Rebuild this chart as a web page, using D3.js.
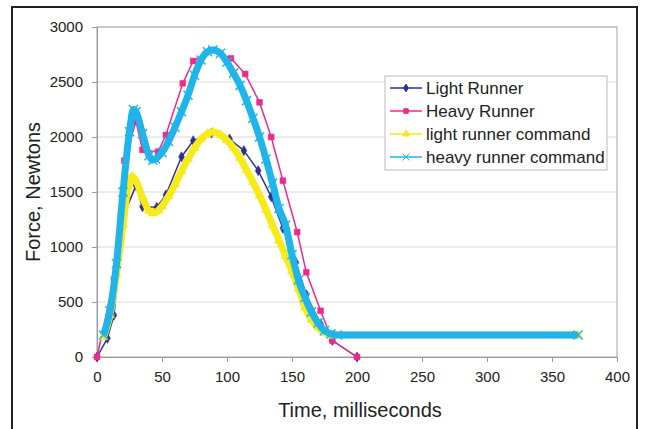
<!DOCTYPE html>
<html>
<head>
<meta charset="utf-8">
<script src="https://cdn.jsdelivr.net/npm/d3@7"></script>
<style>
  body { margin: 0; background: #fff; }
  text { font-family: "Liberation Sans", Arial, sans-serif; }
</style>
</head>
<body>
<div id="chart"></div>
<script>
var svgWidth = 648;
var svgHeight = 429;

// plot area in page pixels
var margin = { top: 27, right: 31, bottom: 72, left: 97 };
var width = svgWidth - margin.left - margin.right;
var height = svgHeight - margin.top - margin.bottom;

// measured runners
var lightTime  = [0, 8, 13, 21, 30, 35, 46, 53, 65, 74, 88, 102, 113, 124, 134, 143, 153, 161, 172, 181, 200];
var lightForce = [0, 170, 380, 1300, 1560, 1366, 1361, 1473, 1820, 1966, 2035, 1982, 1876, 1694, 1457, 1170, 860, 566, 300, 150, 0];

var heavyTime  = [0, 13, 21, 30, 35, 47, 53, 66, 74, 88, 103, 114, 125, 134, 143, 154, 161, 172, 181, 200];
var heavyForce = [0, 706, 1785, 2140, 1882, 1866, 2018, 2488, 2691, 2790, 2715, 2573, 2315, 2000, 1603, 1136, 770, 420, 150, 0];

// command curves
var lightCmdTime  = [5, 10, 15, 20, 24, 27, 30, 35, 40, 43, 47, 50, 55, 60, 65, 70, 75, 80, 85, 89, 95, 100, 105, 110, 115, 120, 125, 130, 135, 140, 145, 150, 155, 160, 165, 170, 175, 180, 370];
var lightCmdForce = [180, 380, 750, 1200, 1550, 1640, 1600, 1450, 1330, 1310, 1330, 1370, 1460, 1570, 1690, 1800, 1900, 1980, 2030, 2045, 2020, 1970, 1900, 1810, 1700, 1590, 1470, 1340, 1200, 1060, 920, 780, 620, 450, 340, 270, 220, 200, 200];

var heavyCmdTime  = [5, 10, 15, 20, 25, 28, 30, 35, 40, 43, 45, 50, 55, 60, 65, 70, 75, 80, 85, 89, 95, 100, 105, 110, 115, 120, 125, 130, 135, 140, 145, 150, 155, 160, 165, 170, 175, 180, 185, 370];
var heavyCmdForce = [200, 420, 850, 1500, 2050, 2250, 2230, 2030, 1830, 1790, 1800, 1860, 1960, 2090, 2230, 2380, 2560, 2700, 2775, 2790, 2760, 2680, 2580, 2470, 2330, 2170, 2000, 1800, 1580, 1350, 1200, 930, 700, 540, 410, 310, 240, 210, 200, 200];

var xTicks = [0, 50, 100, 150, 200, 250, 300, 350, 400];
var yTicks = [0, 500, 1000, 1500, 2000, 2500, 3000];

var seriesNames = ["Light Runner", "Heavy Runner", "light runner command", "heavy runner command"];

var series = [
  { name: seriesNames[0], t: lightTime, f: lightForce, color: "#2e3192", width: 1.5, marker: "diamond", size: 30, curve: d3.curveLinear },
  { name: seriesNames[1], t: heavyTime, f: heavyForce, color: "#ec2a8c", width: 1.5, marker: "square", size: 34, curve: d3.curveLinear },
  { name: seriesNames[2], t: lightCmdTime, f: lightCmdForce, color: "#f7ea1a", width: 7, marker: "triangle", size: 36, curve: d3.curveMonotoneX },
  { name: seriesNames[3], t: heavyCmdTime, f: heavyCmdForce, color: "#1fb5ea", width: 7, marker: "cross", size: 56, curve: d3.curveMonotoneX }
];

var svg = d3.select("#chart")
  .append("svg")
  .attr("width", svgWidth)
  .attr("height", svgHeight);

// outer frame
svg.append("rect")
  .attr("x", 12)
  .attr("y", 7)
  .attr("width", 625)
  .attr("height", 440)
  .attr("fill", "none")
  .attr("stroke", "#222")
  .attr("stroke-width", 2);

var chartGroup = svg.append("g")
  .attr("transform", `translate(${margin.left}, ${margin.top})`);

var xScale = d3.scaleLinear().domain([0, 400]).range([0, width]);
var yScale = d3.scaleLinear().domain([0, 3000]).range([height, 0]);

// gridlines
chartGroup.append("g")
  .selectAll("line")
  .data(yTicks.slice(1))
  .enter()
  .append("line")
  .attr("x1", 0)
  .attr("x2", width)
  .attr("y1", d => yScale(d))
  .attr("y2", d => yScale(d))
  .attr("stroke", "#d9d9d9")
  .attr("stroke-width", 1);

// plot border
chartGroup.append("rect")
  .attr("width", width)
  .attr("height", height)
  .attr("fill", "none")
  .attr("stroke", "#a6a6a6")
  .attr("stroke-width", 1);

var xAxis = chartGroup.append("g")
  .attr("transform", `translate(0, ${height})`)
  .call(d3.axisBottom(xScale).tickValues(xTicks).tickFormat(d3.format("d")).tickSize(5).tickPadding(9));

var yAxis = chartGroup.append("g")
  .call(d3.axisLeft(yScale).tickValues(yTicks).tickFormat(d3.format("d")).tickSize(5).tickPadding(9));

[xAxis, yAxis].forEach(function(ax) {
  ax.select(".domain").attr("stroke", "#999");
  ax.selectAll(".tick line").attr("stroke", "#999");
  ax.selectAll(".tick text")
    .attr("fill", "#222")
    .style("font-size", "15px")
    .style("font-family", "Liberation Sans, Arial, sans-serif");
});

// axis titles
svg.append("text")
  .attr("x", 360)
  .attr("y", 417)
  .attr("text-anchor", "middle")
  .attr("fill", "#222")
  .style("font-size", "20px")
  .text("Time, milliseconds");

svg.append("text")
  .attr("transform", "translate(40, 192) rotate(-90)")
  .attr("text-anchor", "middle")
  .attr("fill", "#222")
  .style("font-size", "20px")
  .text("Force, Newtons");

function markerPath(type, size) {
  if (type === "diamond") return d3.symbol(d3.symbolDiamond, size)();
  if (type === "square") return d3.symbol(d3.symbolSquare, size)();
  if (type === "triangle") return d3.symbol(d3.symbolTriangle, size)();
  return d3.symbol(d3.symbolX, size)();
}

series.forEach(function(s) {
  var pts = s.t.map((t, i) => [t, s.f[i]]);

  var line = d3.line()
    .x(d => xScale(d[0]))
    .y(d => yScale(d[1]))
    .curve(s.curve);

  chartGroup.append("path")
    .datum(pts)
    .attr("d", line)
    .attr("fill", "none")
    .attr("stroke", s.color)
    .attr("stroke-width", s.width)
    .attr("stroke-linejoin", "round");

  var isCross = s.marker === "cross";
  chartGroup.append("g")
    .selectAll("path")
    .data(pts)
    .enter()
    .append("path")
    .attr("transform", d => `translate(${xScale(d[0])}, ${yScale(d[1])})`)
    .attr("d", markerPath(s.marker, s.size))
    .attr("fill", isCross ? "none" : s.color)
    .attr("stroke", s.color)
    .attr("stroke-width", isCross ? 1.5 : 0.5);
});

// legend
var legend = svg.append("g")
  .attr("transform", "translate(385, 76)");

legend.append("rect")
  .attr("width", 222)
  .attr("height", 94)
  .attr("fill", "#fff")
  .attr("stroke", "#bbb")
  .attr("stroke-width", 1);

var items = legend.selectAll(".item")
  .data(series)
  .enter()
  .append("g")
  .attr("transform", (d, i) => `translate(0, ${12 + i * 23})`);

items.append("line")
  .attr("x1", 5)
  .attr("x2", 37)
  .attr("stroke", d => d.color)
  .attr("stroke-width", 1.5);

items.append("path")
  .attr("transform", "translate(21, 0)")
  .attr("d", d => markerPath(d.marker, d.size * 0.6))
  .attr("fill", d => d.marker === "cross" ? "none" : d.color)
  .attr("stroke", d => d.color)
  .attr("stroke-width", 1);

items.append("text")
  .attr("x", 41)
  .attr("y", 6)
  .attr("fill", "#222")
  .style("font-size", "17px")
  .text(d => d.name);
</script>
</body>
</html>
